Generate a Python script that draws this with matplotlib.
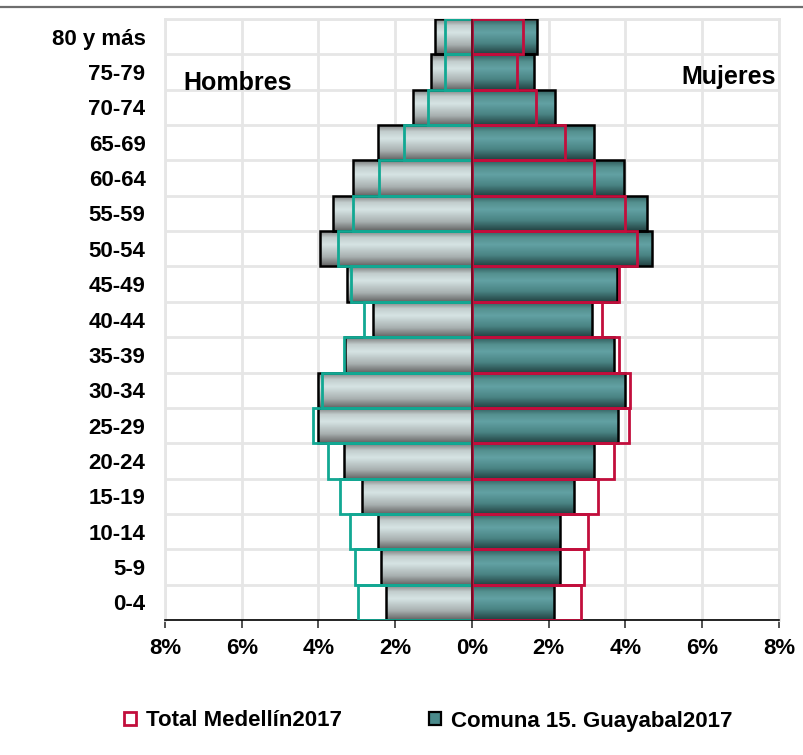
import numpy as np
import matplotlib
matplotlib.use("Agg")
import matplotlib.pyplot as plt
from matplotlib.patches import Patch
from matplotlib.colors import LinearSegmentedColormap
from matplotlib.lines import Line2D

plt.rcParams['font.family'] = ['Liberation Sans', 'DejaVu Sans']
plt.rcParams['font.weight'] = 'bold'

age_groups = ["0-4", "5-9", "10-14", "15-19", "20-24", "25-29", "30-34", "35-39",
              "40-44", "45-49", "50-54", "55-59", "60-64", "65-69", "70-74", "75-79", "80 y más"]
# Comuna 15. Guayabal 2017 (% of population)
comuna_men = [2.24, 2.36, 2.45, 2.86, 3.34, 4.01, 4.01, 3.32, 2.59, 3.25, 3.95, 3.62, 3.10, 2.44, 1.55, 1.06, 0.97]
comuna_women = [2.13, 2.29, 2.29, 2.66, 3.19, 3.81, 3.99, 3.69, 3.12, 3.77, 4.69, 4.57, 3.96, 3.19, 2.17, 1.61, 1.69]
# Total Medellín 2017 (% of population)
med_men = [2.97, 3.06, 3.17, 3.43, 3.75, 4.14, 3.90, 3.34, 2.82, 3.15, 3.50, 3.11, 2.42, 1.78, 1.15, 0.71, 0.71]
med_women = [2.84, 2.93, 3.01, 3.29, 3.70, 4.10, 4.12, 3.82, 3.39, 3.82, 4.29, 3.99, 3.18, 2.43, 1.66, 1.16, 1.32]
xticks = [-8, -6, -4, -2, 0, 2, 4, 6, 8]
legend_labels = ["Total Medellín2017", "Comuna 15. Guayabal2017"]

fig = plt.figure(figsize=(8.04, 7.55), dpi=100)
ax = fig.add_axes([165/804, 1-620/755, (779-165)/804, (620-19)/755])

y = np.arange(len(age_groups))

men_cmap = LinearSegmentedColormap.from_list(
    "men", [(0.0, "#646464"), (0.25, "#a7afaf"), (0.6, "#d6e4e4"), (0.8, "#c2cdcd"), (1.0, "#787878")])
women_cmap = LinearSegmentedColormap.from_list(
    "women", [(0.0, "#224242"), (0.3, "#4a8484"), (0.6, "#62a1a3"), (0.8, "#54908f"), (1.0, "#2d5858")])
grad = np.linspace(0, 1, 64).reshape(-1, 1)

cm_men = ax.barh(y, -np.array(comuna_men), height=1.0, facecolor="none",
                 edgecolor="black", linewidth=1.8, zorder=3)
cm_women = ax.barh(y, np.array(comuna_women), height=1.0, facecolor="none",
                   edgecolor="black", linewidth=1.8, zorder=3)

for bars, cmap in ((cm_men, men_cmap), (cm_women, women_cmap)):
    for p in bars.patches:
        x0, y0, w, h = p.get_x(), p.get_y(), p.get_width(), p.get_height()
        im = ax.imshow(grad, extent=[x0, x0 + w, y0 + h, y0], origin="upper",
                       cmap=cmap, aspect="auto", interpolation="bilinear", zorder=2)
        im.set_clip_path(p)

ax.barh(y, -np.array(med_men), height=1.0, facecolor="none",
        edgecolor="#12a893", linewidth=2.0, zorder=4)
ax.barh(y, np.array(med_women), height=1.0, facecolor="none",
        edgecolor="#c20e3c", linewidth=2.0, zorder=4)
ax.axvline(0, color="#6a0a20", linewidth=1.2, zorder=5)

ax.set_xlim(-8, 8)
ax.set_ylim(-0.5, len(age_groups) - 0.5)
ax.set_xticks(xticks)
ax.set_xticklabels([f"{abs(t)}%" for t in xticks], fontsize=16, fontweight="bold")
ax.set_yticks(y)
ax.set_yticklabels(age_groups, fontsize=16, fontweight="bold")
ax.set_yticks(np.arange(-0.5, len(age_groups), 1.0), minor=True)
ax.tick_params(axis="y", which="both", length=0, pad=14)
ax.tick_params(axis="x", which="major", length=6, width=1.2, direction="out", pad=7, color="#333333")
ax.grid(axis="x", which="major", color="#e6e6e6", linewidth=2)
ax.grid(axis="y", which="minor", color="#e6e6e6", linewidth=2)
ax.set_axisbelow(True)
for s in ("left", "top", "right"):
    ax.spines[s].set_color("#e6e6e6")
    ax.spines[s].set_linewidth(2)
ax.spines["bottom"].set_color("black")
ax.spines["bottom"].set_linewidth(1.2)

fig.text(238/804, 1-82.5/755, "Hombres", fontsize=18, fontweight="bold", ha="center", va="center")
fig.text(776/804, 1-77/755, "Mujeres", fontsize=18, fontweight="bold", ha="right", va="center")

fig.add_artist(Line2D([0, 1], [1-7/755, 1-7/755], color="#6e6e6e", linewidth=1.6,
                      transform=fig.transFigure))

handles = [Patch(facecolor="white", edgecolor="#c20e3c", linewidth=2.0),
           Patch(facecolor="#4a8a8b", edgecolor="black", linewidth=1.6)]
fig.legend(handles, legend_labels, loc="center", bbox_to_anchor=(428/804, 1-721/755),
           ncol=2, frameon=False, handlelength=0.55, handleheight=0.55,
           handletextpad=0.45, columnspacing=3.9, prop={"weight": "bold", "size": 16})

fig.savefig("out.png", dpi=100)
